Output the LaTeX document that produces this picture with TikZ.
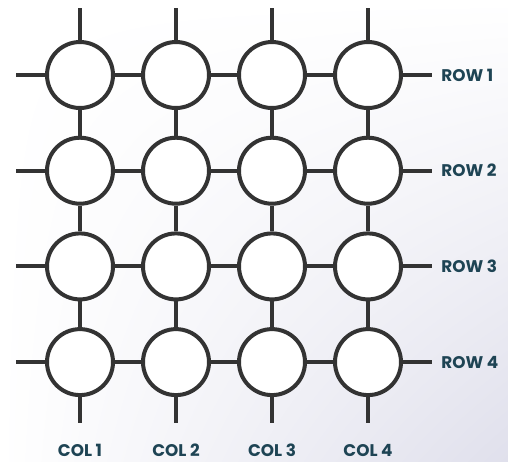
\documentclass[tikz,border=0pt]{standalone}
\usepackage{fontspec}
\setmainfont{Poppins}
\usepackage{tikz}
\usetikzlibrary{shadings}

\definecolor{wiregray}{HTML}{333333}
\definecolor{labelteal}{HTML}{1E4454}
\definecolor{backlav}{HTML}{E0E0EC}

\begin{document}
\begin{tikzpicture}[x=0.02cm, y=-0.02cm,
    cell/.style={circle, draw=wiregray, line width=0.08cm, fill=white, minimum size=1.32cm, inner sep=0pt},
    wire/.style={draw=wiregray, line width=0.08cm},
    lbl/.style={text=labelteal, font=\bfseries\fontsize{9.6}{9.6}\selectfont, inner sep=0pt}]
    \shade[upper left=white, upper right=white, lower left=white, lower right=backlav] (0,0) rectangle (508,461);
    \useasboundingbox (0,0) rectangle (508,461);
    % cells
    \foreach \rw in {1,...,4} {
        \foreach \cl in {1,...,4} {
            \node[cell] (c\rw\cl) at ({80+96*(\cl-1)}, {75+95.7*(\rw-1)}) {};
        }
    }
    % free ends of the wires
    \foreach \cl in {1,...,4} {
        \coordinate (top\cl) at ({80+96*(\cl-1)}, 8);
        \coordinate (bot\cl) at ({80+96*(\cl-1)}, 423);
        \node[lbl] (col\cl) at ({80+96*(\cl-1)}, 450) {COL \cl};
    }
    \foreach \rw in {1,...,4} {
        \coordinate (left\rw) at (16, {75+95.7*(\rw-1)});
        \coordinate (right\rw) at (432, {75+95.7*(\rw-1)});
        \node[lbl, anchor=west] (row\rw) at (441, {75+95.7*(\rw-1)}) {ROW \rw};
    }
    % wires
    \foreach \rw in {1,...,4}
        \draw[wire] (left\rw) -- (c\rw1) -- (c\rw2) -- (c\rw3) -- (c\rw4) -- (right\rw);
    \foreach \cl in {1,...,4}
        \draw[wire] (top\cl) -- (c1\cl) -- (c2\cl) -- (c3\cl) -- (c4\cl) -- (bot\cl);
\end{tikzpicture}
\end{document}
